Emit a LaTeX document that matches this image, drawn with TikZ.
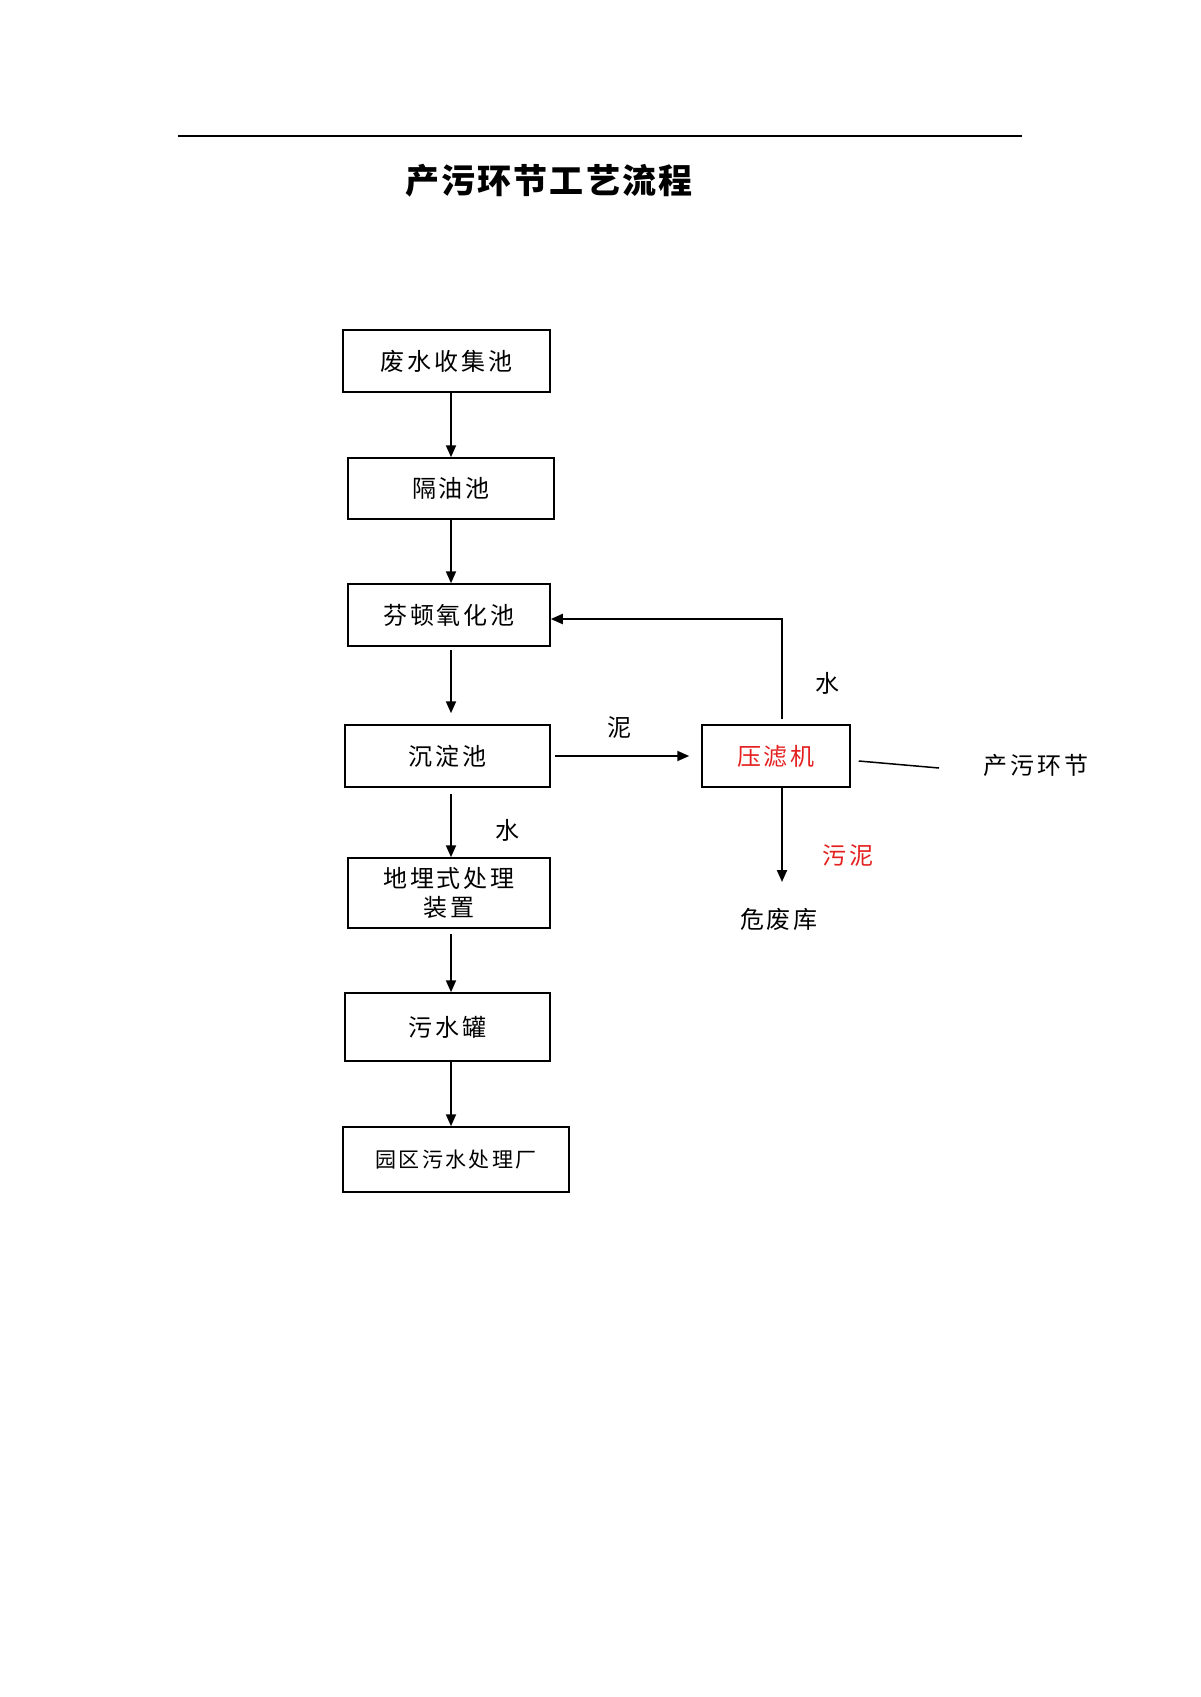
\documentclass[tikz,border=0pt]{standalone}
\usepackage{fontspec}
\setmainfont{Noto Sans CJK SC}
\usetikzlibrary{arrows.meta}

\definecolor{wured}{RGB}{228,32,32}

\tikzset{
    box/.style={draw, line width=0.75pt, inner sep=0pt, align=center},
    flow/.style={line width=1pt, -{Triangle[length=6pt,width=5pt]}},
    cjk/.style={font=\fontsize{12}{14.5}\selectfont\addfontfeature{LetterSpace=12}}
}

\begin{document}
\begin{tikzpicture}[
        x=0.5pt, y=-0.5pt,
        every node/.style={cjk}
    ]
        \useasboundingbox (0,0) rectangle (1200,1697);

        % HEADER
        \draw[line width=0.8pt] (178,136) -- (1022,136);
        \node[font=\fontsize{17}{20}\selectfont\bfseries\addfontfeature{LetterSpace=6}] (title) at (549,181) {产污环节工艺流程};

        % MAIN LINE
        \node[box, minimum width=103.5pt, minimum height=31pt] (fs) at (446.5,361) {废水收集池};
        \node[box, minimum width=103pt, minimum height=30.5pt] (gy) at (451,488.5) {隔油池};
        \node[box, minimum width=101pt, minimum height=31pt] (ft) at (449,615) {芬顿氧化池};
        \node[box, minimum width=102.5pt, minimum height=31pt] (cd) at (447.5,756) {沉淀池};
        \node[box, minimum width=101pt, minimum height=35pt] (dm) at (449,893) {地埋式处理\\装置};
        \node[box, minimum width=102.5pt, minimum height=34pt] (wg) at (447.5,1027) {污水罐};
        \node[box, minimum width=113pt, minimum height=32.5pt,
            font=\fontsize{10.5}{12}\selectfont\addfontfeature{LetterSpace=11}] (yq) at (456,1159.5) {园区污水处理厂};

        \coordinate (spine) at (451,0);
        \draw[flow] (fs.south -| spine) -- (gy.north -| spine);
        \draw[flow] (gy.south -| spine) -- (ft.north -| spine);
        \draw[flow, shorten <=1.5pt, shorten >=5.5pt] (ft.south -| spine) -- (cd.north -| spine);
        \draw[flow, shorten <=3pt] (cd.south -| spine) -- (dm.north -| spine);
        \draw[flow, shorten <=2.5pt] (dm.south -| spine) -- (wg.north -| spine);
        \draw[flow] (wg.south -| spine) -- (yq.north -| spine);
        \node (w1) at (507,830) {水};

        % FILTER PRESS
        \node[box, minimum width=74pt, minimum height=31pt, text=wured] (yl) at (776,756) {压滤机};
        \draw[flow, shorten <=2pt, shorten >=6pt] (cd.east) -- (yl.west);
        \node (ni) at (619,728) {泥};

        \coordinate (fb) at (782,0);
        \draw[flow, shorten <=2.5pt] (yl.north -| fb) |- ([yshift=-2pt]ft.east);
        \node (w2) at (827,683) {水};

        \coordinate (sludge) at (782,882);
        \draw[flow] (yl.south -| fb) -- (sludge);
        \node[text=wured] (wn) at (848,856) {污泥};
        \node (wk) at (779,919) {危废库};

        \coordinate (tag) at (939,768);
        \draw[line width=0.75pt] ([shift={(8,5)}]yl.east) -- (tag);
        \node (cw) at (1036,765) {产污环节};
    \end{tikzpicture}
\end{document}
